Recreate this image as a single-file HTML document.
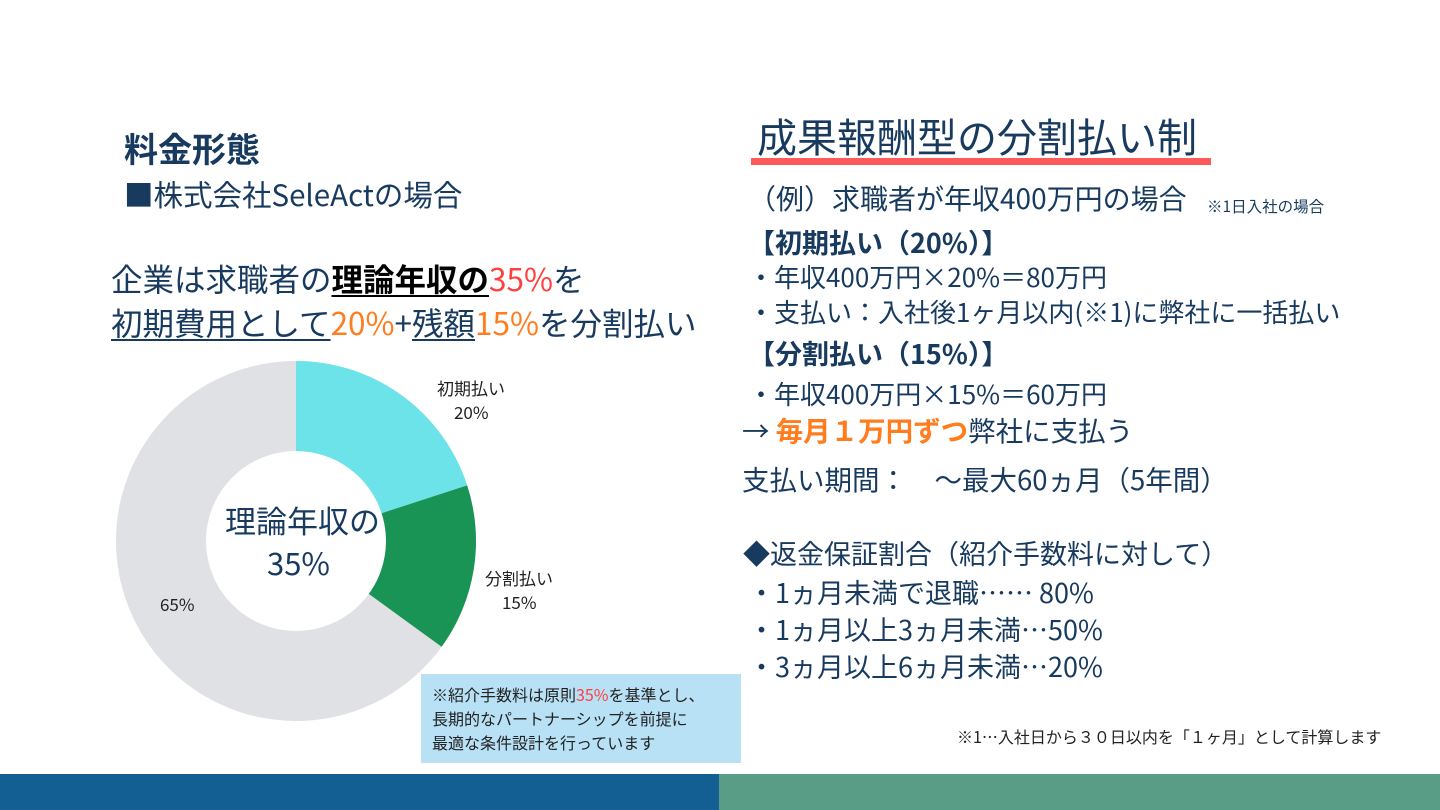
<!DOCTYPE html>
<html><head><meta charset="utf-8"><style>
body{margin:0;width:1440px;height:810px;position:relative;background:#fff;overflow:hidden;font-family:"Noto Sans CJK JP","Liberation Sans",sans-serif;color:#173a5e}
.t{position:absolute;white-space:nowrap;line-height:1}
.r{color:#ff4040}.o{color:#ff7d1e}
u{text-decoration:underline;text-decoration-thickness:2px;text-underline-offset:4px}
</style></head><body>
<div class="t" style="left:124px;top:131px;font-size:34px;font-weight:bold">料金形態</div>
<div class="t" style="left:124px;top:180px;font-size:29.5px">■株式会社SeleActの場合</div>
<div class="t" style="left:111px;top:263px;font-size:31.5px">企業は求職者の<u style="color:#000;font-weight:bold">理論年収の</u><span class="r">35%</span>を</div>
<div class="t" style="left:111px;top:307px;font-size:31.5px"><u>初期費用として</u><span class="o">20%</span>+<u>残額</u><span class="o">15%</span>を分割払い</div>
<svg style="position:absolute;left:0;top:0" width="760" height="770">
<circle cx="296" cy="541" r="135" fill="none" stroke="#e0e1e5" stroke-width="90"/>
<path d="M296 361 A180 180 0 0 1 467.2 485.4 L381.6 513.2 A90 90 0 0 0 296 451Z" fill="#6be3e8"/>
<path d="M467.2 485.4 A180 180 0 0 1 441.6 646.8 L368.8 593.9 A90 90 0 0 0 381.6 513.2Z" fill="#1a9455"/>
</svg>
<div class="t" style="left:225px;top:504px;font-size:31px">理論年収の</div>
<div class="t" style="left:267px;top:546px;font-size:31px">35%</div>
<div class="t" style="left:437px;top:379px;font-size:17px;color:#222">初期払い</div>
<div class="t" style="left:454px;top:403px;font-size:17px;color:#222">20%</div>
<div class="t" style="left:485px;top:569px;font-size:17px;color:#222">分割払い</div>
<div class="t" style="left:502px;top:593px;font-size:17px;color:#222">15%</div>
<div class="t" style="left:160px;top:595px;font-size:17px;color:#222">65%</div>
<div style="position:absolute;left:421px;top:674px;width:320px;height:89px;background:#b8e1f6"></div>
<div class="t" style="left:432px;top:682px;font-size:16px;line-height:24px;color:#222">※紹介手数料は原則<span class="r">35%</span>を基準とし、<br>長期的なパートナーシップを前提に<br>最適な条件設計を行っています</div>
<div class="t" style="left:757px;top:115px;font-size:40px">成果報酬型の分割払い制</div>
<div style="position:absolute;left:751px;top:158px;width:460px;height:7px;background:#ff5a5a"></div>
<div class="t" style="left:748px;top:184px;font-size:28px">（例）求職者が年収400万円の場合</div>
<div class="t" style="left:1207px;top:199px;font-size:15.5px">※1日入社の場合</div>
<div class="t" style="left:748px;top:228px;font-size:27px;font-weight:bold">【初期払い（20%）】</div>
<div class="t" style="left:748px;top:264px;font-size:26px">・年収400万円×20%＝80万円</div>
<div class="t" style="left:748px;top:299px;font-size:26px">・支払い：入社後1ヶ月以内(※1)に弊社に一括払い</div>
<div class="t" style="left:748px;top:339px;font-size:27px;font-weight:bold">【分割払い（15%）】</div>
<div class="t" style="left:748px;top:381px;font-size:26px">・年収400万円×15%＝60万円</div>
<div class="t" style="left:742px;top:416px;font-size:27.5px">→ <b class="o">毎月１万円ずつ</b>弊社に支払う</div>
<div class="t" style="left:742px;top:465px;font-size:27.5px">支払い期間：　～最大60ヵ月（5年間）</div>
<div class="t" style="left:743px;top:539px;font-size:27px">◆返金保証割合（紹介手数料に対して）</div>
<div class="t" style="left:748px;top:578px;font-size:27px">・1ヵ月未満で退職……  80%</div>
<div class="t" style="left:748px;top:615px;font-size:27px">・1ヵ月以上3ヵ月未満…50%</div>
<div class="t" style="left:748px;top:652px;font-size:27px">・3ヵ月以上6ヵ月未満…20%</div>
<div class="t" style="left:957px;top:728px;font-size:16px;color:#222">※1…入社日から３０日以内を「１ヶ月」として計算します</div>
<div style="position:absolute;left:0;top:774px;width:719px;height:36px;background:#135e92"></div>
<div style="position:absolute;left:719px;top:774px;width:721px;height:36px;background:#5a9d87"></div>
</body></html>
